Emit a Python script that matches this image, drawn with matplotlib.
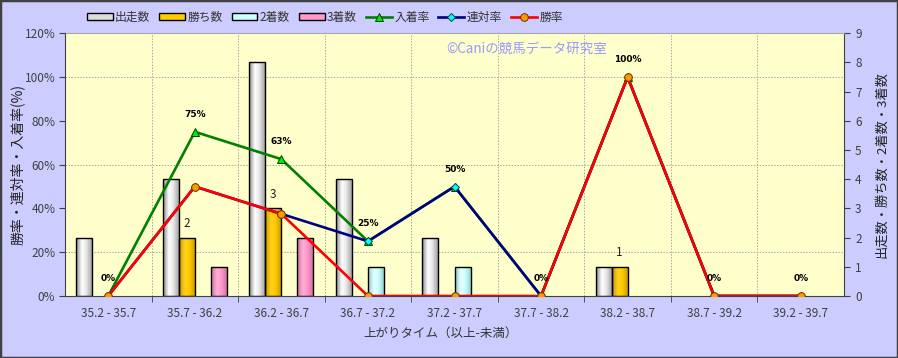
import numpy as np
import matplotlib
matplotlib.use("Agg")
import matplotlib.pyplot as plt
from matplotlib.colors import LinearSegmentedColormap
from matplotlib.patches import Rectangle

plt.rcParams['font.family'] = ['Noto Sans CJK JP', 'DejaVu Sans']

categories = ["35.2 - 35.7", "35.7 - 36.2", "36.2 - 36.7", "36.7 - 37.2", "37.2 - 37.7",
              "37.7 - 38.2", "38.2 - 38.7", "38.7 - 39.2", "39.2 - 39.7"]
runs   = [2, 4, 8, 4, 2, 0, 1, 0, 0]   # 出走数
wins   = [0, 2, 3, 0, 0, 0, 1, 0, 0]   # 勝ち数
second = [0, 0, 0, 1, 1, 0, 0, 0, 0]   # 2着数
third  = [0, 1, 2, 0, 0, 0, 0, 0, 0]   # 3着数
place_rate = [0, 75, 62.5, 25, 50, 0, 100, 0, 0]    # 入着率
quin_rate  = [0, 50, 37.5, 25, 50, 0, 100, 0, 0]    # 連対率
win_rate   = [0, 50, 37.5, 0, 0, 0, 100, 0, 0]      # 勝率
pct_ticks = [0, 20, 40, 60, 80, 100, 120]
cnt_ticks = [0, 1, 2, 3, 4, 5, 6, 7, 8, 9]

BG = '#CCCCFF'
PLOT_BG = '#FFFFCC'
GRID = '#A8A8A8'

fig = plt.figure(figsize=(8.98, 3.58), dpi=100, facecolor=BG)
ax = fig.add_axes([65/898, 1-296/358, (844-65)/898, (296-33.3)/358])
ax2 = ax.twinx()
ax.set_zorder(2)
ax2.set_zorder(1)
ax.patch.set_visible(False)
ax2.patch.set_visible(True)
ax2.patch.set_facecolor(PLOT_BG)

n = len(categories)
x = np.arange(n)
w = 0.185
bounds = np.arange(0.5, n - 0.5, 1)

# grid on count axis (behind bars)
ax2.set_ylim(0, 9)
ax2.set_xlim(-0.5, n - 0.5)
ax2.set_yticks(cnt_ticks)
ax2.set_yticks(np.arange(1.5, 9.01, 1.5), minor=True)
ax2.grid(which='minor', axis='y', color=GRID, linestyle=(0, (1.5, 1.5)), linewidth=0.7)
ax2.set_axisbelow(True)
for b in bounds:
    ax2.axvline(b, color=GRID, linestyle=(0, (1.5, 1.5)), linewidth=0.7, zorder=0.5)

bar_specs = [
    (runs,   -1.5, ['#8a8a8a', '#ffffff', '#e8e8e8', '#9a9a9a'], '#dddddd'),
    (wins,   -0.5, ['#c89600', '#ffd21a', '#ffcc00', '#c89600'], '#ffcc00'),
    (second,  0.5, ['#8fcccc', '#e6ffff', '#ccffff', '#8fcccc'], '#ccffff'),
    (third,   1.5, ['#c8709c', '#ffb0d6', '#ff99cc', '#c8709c'], '#ff99cc'),
]
grad = np.linspace(0, 1, 64)[None, :]
handles = []
for vals, off, cols, hcol in bar_specs:
    cmap = LinearSegmentedColormap.from_list('g', list(zip([0, 0.35, 0.6, 1], cols)))
    bars = ax2.bar(x + off * w, vals, w, facecolor='none', edgecolor='black',
                   linewidth=1.0, zorder=3)
    for p in bars:
        if p.get_height() <= 0:
            p.set_visible(False)
            continue
        im = ax2.imshow(grad, extent=[p.get_x(), p.get_x() + p.get_width(), 0, p.get_height()],
                        cmap=cmap, aspect='auto', interpolation='bilinear', zorder=2.5)
        im.set_clip_path(p)
    handles.append(Rectangle((0, 0), 1, 1, facecolor=hcol, edgecolor='black', linewidth=1.0))

ax2.set_ylim(0, 9)
ax2.set_xlim(-0.5, n - 0.5)

# bar labels for wins
for xi, v in zip(x, wins):
    if v > 0:
        ax2.annotate(str(v), (xi - 0.5 * w, v), xytext=(0, 10), textcoords='offset points',
                     ha='center', va='center', fontsize=8.5, color='#222222', zorder=6)

# lines
l1, = ax.plot(x, place_rate, color='#008000', lw=1.9, marker='^', ms=6,
              mfc='#00ee00', mec='#004400', mew=0.7, zorder=3)
l2, = ax.plot(x, quin_rate, color='#000080', lw=1.9, marker='D', ms=4.5,
              mfc='#00ffff', mec='#004444', mew=0.7, zorder=4)
l3, = ax.plot(x, win_rate, color='#ff0000', lw=1.9, marker='o', ms=5.5,
              mfc='#ff9900', mec='#663300', mew=0.7, zorder=5)

for xi, v in zip(x, place_rate):
    ax.annotate(f"{int(v + 0.5)}%", (xi, v), xytext=(0, 12.5), textcoords='offset points',
                ha='center', va='center', fontsize=6.5, fontweight='bold',
                family='DejaVu Sans', color='black', zorder=6)

ax.set_ylim(0, 120)
ax.set_xlim(-0.5, n - 0.5)
ax.set_yticks(pct_ticks)
ax.set_yticklabels([f"{t}%" for t in pct_ticks])
ax.set_xticks(x)
ax.set_xticklabels(categories)
ax.set_xticks(bounds, minor=True)

tick_col = '#404040'
ax.tick_params(axis='y', which='major', direction='out', length=4, labelsize=8.5,
               labelcolor=tick_col, color='#404040', pad=3)
ax.tick_params(axis='x', which='major', length=0, labelsize=8.5, labelcolor=tick_col, pad=8)
ax.tick_params(axis='x', which='minor', direction='out', length=4, color='#404040')
ax2.tick_params(axis='y', which='major', direction='out', length=4, labelsize=8.5,
                labelcolor=tick_col, color='#404040', pad=4)
ax2.tick_params(axis='y', which='minor', length=0)

for a in (ax, ax2):
    for s in a.spines.values():
        s.set_visible(False)
ax.spines['left'].set_visible(True)
ax.spines['left'].set_color('#404040')
ax.spines['bottom'].set_visible(True)
ax.spines['bottom'].set_color('#404040')
ax2.spines['right'].set_visible(True)
ax2.spines['right'].set_color('#404040')
ax2.spines['top'].set_visible(True)
ax2.spines['top'].set_color(GRID)
ax2.spines['top'].set_linewidth(0.8)

ax.set_ylabel("勝率・連対率・入着率(%)", fontsize=10, color='#222222', labelpad=0)
ax2.set_ylabel("出走数・勝ち数・2着数・3着数", fontsize=9.5, color='#222222', labelpad=10,
               rotation=90)
fig.text(441/898, 1-333/358, "上がりタイム（以上-未満）", ha='center', va='center',
         fontsize=9, color='#333333')

ax.text((446-65)/779, (296-49)/262.7, "©Caniの競馬データ研究室", transform=ax.transAxes,
        ha='left', va='center', fontsize=9.7, color='#9999ff', zorder=1)

labels = ["出走数", "勝ち数", "2着数", "3着数", "入着率", "連対率", "勝率"]
leg = fig.legend(handles + [l1, l2, l3], labels, loc='center left',
                 bbox_to_anchor=(76/898, 1-17/358), ncol=7, frameon=False,
                 fontsize=8.5, handlelength=2.2, handleheight=0.6, handletextpad=0.2,
                 columnspacing=0.75, labelcolor='#333333')

fig.patches.append(Rectangle((0, 0), 1, 1, transform=fig.transFigure, fill=False,
                             edgecolor='#404040', linewidth=2.5, zorder=10))

fig.savefig("out.png", dpi=100, facecolor=BG)
